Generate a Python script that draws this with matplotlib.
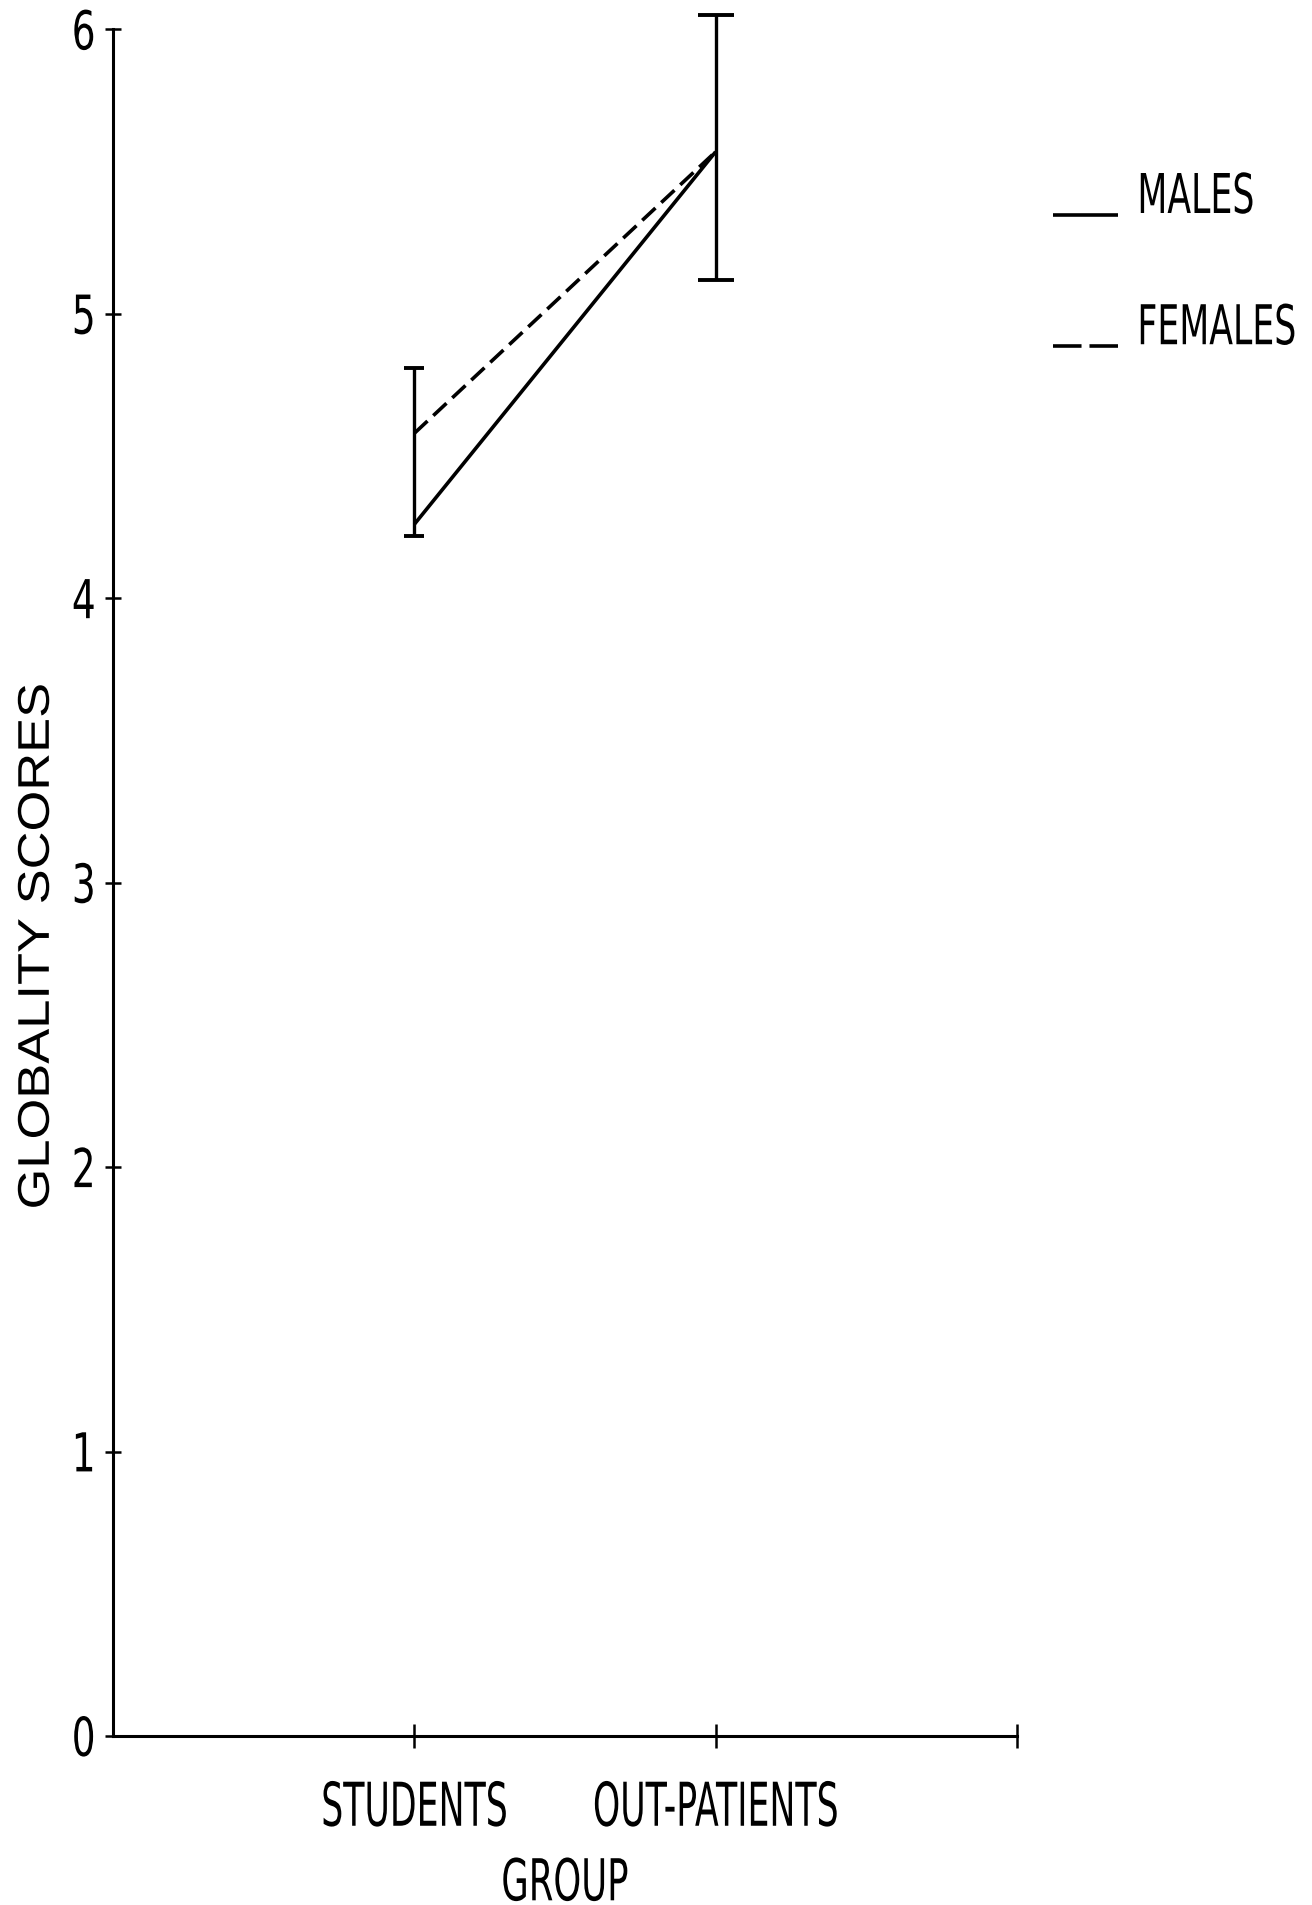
import numpy as np
import matplotlib
matplotlib.use("Agg")
import matplotlib.pyplot as plt
from matplotlib import font_manager
from matplotlib.patheffects import AbstractPathEffect
from matplotlib.transforms import Affine2D
from matplotlib.legend_handler import HandlerLine2D
from matplotlib.lines import Line2D

# ---- data ----
groups = ["STUDENTS", "OUT-PATIENTS"]
males = [4.26, 5.57]
females = [4.58, 5.57]
err_low = [4.22, 5.12]
err_high = [4.81, 6.05]
y_ticks = [0, 1, 2, 3, 4, 5, 6]
series_labels = ["MALES", "FEMALES"]
x_label = "GROUP"
y_label = "GLOBALITY SCORES"


class Stretch(AbstractPathEffect):
    """Draw text with independent x / y scale (tall, condensed lettering)."""

    def __init__(self, sx=1.0, sy=1.0, ax_="center", ay="baseline"):
        super().__init__()
        self.sx, self.sy, self.ax_, self.ay = sx, sy, ax_, ay

    def draw_path(self, renderer, gc, tpath, affine, rgbFace=None):
        rx, ry = 0.0, 0.0
        try:
            e = tpath.get_extents()
            rx = {"center": (e.x0 + e.x1) / 2, "right": e.x1, "left": e.x0}[self.ax_]
            ry = {"center": (e.y0 + e.y1) / 2, "top": e.y1, "baseline": 0.0}[self.ay]
            if not (np.isfinite(rx) and np.isfinite(ry)):
                rx, ry = 0.0, 0.0
        except Exception:
            pass
        pre = Affine2D().translate(-rx, -ry).scale(self.sx, self.sy).translate(rx, ry)
        renderer.draw_path(gc, tpath, pre + affine, rgbFace)


class BaselineHandler(HandlerLine2D):
    def __init__(self, dashes=None, **kw):
        super().__init__(**kw)
        self._dashes = dashes

    def create_artists(self, legend, orig_handle, xdescent, ydescent,
                       width, height, fontsize, trans):
        arts = super().create_artists(legend, orig_handle, xdescent, ydescent,
                                      width, height, fontsize, trans)
        for a in arts:
            if isinstance(a, Line2D):
                a.set_ydata(np.zeros_like(np.asarray(a.get_ydata(), float)) - 0.05 * fontsize)
                if self._dashes is not None:
                    a.set_dashes(self._dashes)
        return arts


fam = ["DejaVu Sans"]
label_family = ["Liberation Sans", "DejaVu Sans"]

fig = plt.figure(figsize=(13.12, 19.06), dpi=100)
ax = fig.add_axes([0.0861, 0.0887, 0.689, 0.8953])

x = np.arange(1, len(groups) + 1)
lw = 2.6
l1, = ax.plot(x, males, color="black", lw=lw, solid_capstyle="butt", clip_on=False)
l2, = ax.plot(x, females, color="black", lw=lw, dashes=(5.0, 2.2), clip_on=False)

low = np.array(err_low)
high = np.array(err_high)
center = (low + high) / 2
capsizes = [7, 13]
for i in range(len(groups)):
    eb = ax.errorbar(x[i], center[i], yerr=[[center[i] - low[i]], [high[i] - center[i]]],
                     fmt="none", ecolor="black", elinewidth=2.4, capsize=capsizes[i],
                     capthick=2.8)
    for art in list(eb.lines[1]) + list(eb.lines[2]):
        art.set_clip_on(False)

ax.set_xlim(0, 3)
ax.set_ylim(0, 6)
ax.set_yticks(y_ticks)
ax.set_yticklabels([str(v) for v in y_ticks], fontsize=27, family=fam)
ax.set_xticks([1, 2, 3])
ax.set_xticklabels(groups + [""], fontsize=25, family=fam)

for s in ["top", "right"]:
    ax.spines[s].set_visible(False)
for s in ["left", "bottom"]:
    ax.spines[s].set_linewidth(2.2)

ax.tick_params(axis="y", direction="inout", length=11, width=1.8, pad=7)
ax.tick_params(axis="x", direction="inout", length=17, width=1.8, pad=23)

xl = ax.set_xlabel(x_label, fontsize=25.5, labelpad=31, family=fam)
yl = ax.set_ylabel(y_label, fontsize=32, family=label_family)
ax.yaxis.set_label_coords(-0.061, 0.463)
xl.set_path_effects([Stretch(1.0, 1.63, "center", "top")])
yl.set_path_effects([Stretch(1.18, 1.0, "center", "baseline")])

LFS = 25
leg = fig.legend([l1, l2], series_labels, loc="upper left",
                 bbox_to_anchor=(1053 / 1312, 1 - 187 / 1906),
                 frameon=False, handlelength=1.87, handletextpad=0.56,
                 borderpad=0, borderaxespad=0, labelspacing=2.8,
                 prop=font_manager.FontProperties(size=LFS, family=fam),
                 handler_map={l1: BaselineHandler(), l2: BaselineHandler(dashes=(7.9, 2.2))})
for t in leg.get_texts():
    t.set_path_effects([Stretch(1.0, 1.58, "left", "baseline")])

fig.canvas.draw()
for t in ax.get_yticklabels():
    t.set_path_effects([Stretch(1.0, 1.43, "right", "center")])
for t in ax.get_xticklabels():
    t.set_path_effects([Stretch(1.0, 1.74, "center", "top")])

fig.savefig("out.png", dpi=100, facecolor="white")
